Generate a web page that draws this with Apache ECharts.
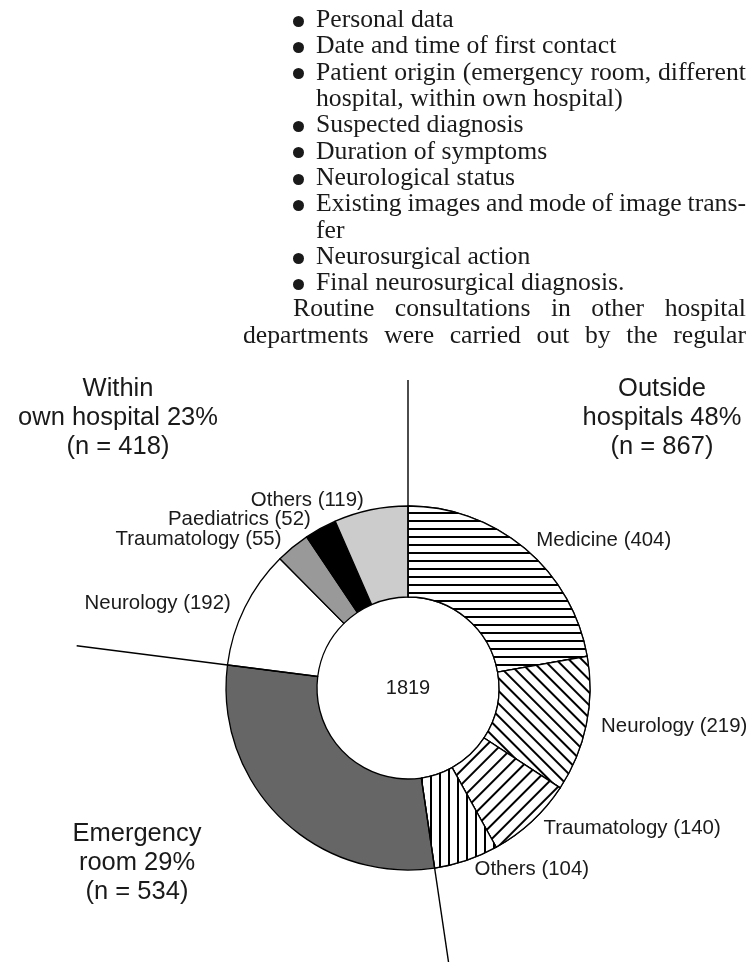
<!DOCTYPE html>
<html>
<head>
<meta charset="utf-8">
<script src="https://cdn.jsdelivr.net/npm/echarts@6/dist/echarts.min.js"></script>
<style>
  html, body { margin: 0; padding: 0; background: #fff; }
  #page { position: relative; width: 749px; height: 962px; overflow: hidden; }
  #chart { position: absolute; left: 0; top: 0; width: 749px; height: 962px; }
  #text {
    position: absolute; left: 0; top: 6.2px; width: 749px;
    font-family: "Liberation Serif", serif; font-size: 25.7px; line-height: 26.3px; color: #1a1a1a;
  }
  .li { position: relative; margin-left: 316px; width: 430px; white-space: nowrap; }
  .li .dot { position: absolute; left: -23.5px; top: 9.7px; width: 11px; height: 11px; border-radius: 50%; background: #1a1a1a; }
  .just { white-space: normal; word-spacing: -3px; text-align: justify; text-align-last: justify; }
</style>
</head>
<body>
<div id="page">
  <div id="chart"></div>
  <div id="text">
    <div class="li"><span class="dot"></span>Personal data</div>
    <div class="li"><span class="dot"></span>Date and time of first contact</div>
    <div class="li just"><span class="dot"></span>Patient origin (emergency room, different</div>
    <div class="li">hospital, within own hospital)</div>
    <div class="li"><span class="dot"></span>Suspected diagnosis</div>
    <div class="li"><span class="dot"></span>Duration of symptoms</div>
    <div class="li"><span class="dot"></span>Neurological status</div>
    <div class="li just"><span class="dot"></span>Existing images and mode of image trans-</div>
    <div class="li">fer</div>
    <div class="li"><span class="dot"></span>Neurosurgical action</div>
    <div class="li"><span class="dot"></span>Final neurosurgical diagnosis.</div>
    <div class="just" style="margin-left:293px;width:453px">Routine consultations in other hospital</div>
    <div class="just" style="margin-left:243px;width:503px">departments were carried out by the regular</div>
  </div>
</div>
<script>
  // consultations by origin, clockwise from 12 o'clock
  const outsideNames = ['Medicine', 'Neurology', 'Traumatology', 'Others']
  const outsideValues = [404, 219, 140, 104]
  const emergencyName = 'Emergency room'
  const emergencyValue = 534
  const ownNames = ['Neurology', 'Traumatology', 'Paediatrics', 'Others']
  const ownValues = [192, 55, 52, 119]

  const groupTitles = ['Outside\nhospitals', 'Emergency\nroom', 'Within\nown hospital']
  const groupPercents = [48, 29, 23]

  const sum = arr => arr.reduce((a, b) => a + b, 0)
  const outsideTotal = sum(outsideValues)
  const ownTotal = sum(ownValues)
  const total = outsideTotal + emergencyValue + ownTotal
  const groupN = [outsideTotal, emergencyValue, ownTotal]

  const cx = 408
  const cy = 688
  const ringInner = 91
  const ringOuter = 182

  const hatch = (rotation, gap) => ({
    symbol: 'rect',
    symbolSize: 1,
    dashArrayX: [1, 0],
    dashArrayY: [1.4, gap],
    rotation: rotation,
    color: '#000',
    backgroundColor: '#fff'
  })
  const outsideDecals = [
    hatch(0, 5.6),
    hatch(Math.PI / 4, 7),
    hatch(-Math.PI / 4, 7.5),
    hatch(Math.PI / 2, 6.8)
  ]
  const ownColors = ['#ffffff', '#999999', '#000000', '#cccccc']

  const pieData = []
  outsideNames.forEach((n, i) => {
    pieData.push({ name: n, value: outsideValues[i], itemStyle: { color: '#fff', decal: outsideDecals[i] } })
  })
  pieData.push({ name: emergencyName, value: emergencyValue, itemStyle: { color: '#666666' }, label: { show: false } })
  ownNames.forEach((n, i) => {
    pieData.push({ name: n, value: ownValues[i], itemStyle: { color: ownColors[i] } })
  })

  // group separators: angle in data units, outer reach in px
  const sepAngles = [0, outsideTotal, outsideTotal + emergencyValue]
  const sepReach = [308, 280, 334]

  const sepSeries = sepAngles.map((a, i) => ({
    type: 'line',
    coordinateSystem: 'polar',
    symbol: 'none',
    silent: true,
    clip: false,
    z: 5,
    lineStyle: { color: '#000', width: 1.4 },
    data: [[ringInner, a], [sepReach[i], a]]
  }))

  const sansFont = 'Liberation Sans, Arial, sans-serif'
  const groupText = (i, x, y) => ({
    type: 'text',
    x: x,
    y: y,
    style: {
      text: groupTitles[i] + ' ' + groupPercents[i] + '%\n(n = ' + groupN[i] + ')',
      fontSize: 25.5,
      fontFamily: sansFont,
      lineHeight: 29,
      align: 'center',
      verticalAlign: 'middle',
      fill: '#1a1a1a'
    }
  })

  const chart = echarts.init(document.getElementById('chart'))
  chart.setOption({
    animation: false,
    polar: { center: [cx, cy], radius: 340 },
    angleAxis: { type: 'value', min: 0, max: total, startAngle: 90, clockwise: true, show: false },
    radiusAxis: { type: 'value', min: 0, max: 340, show: false },
    graphic: [
      groupText(0, 662, 418),
      groupText(1, 137, 863),
      groupText(2, 118, 418),
      {
        type: 'text', x: cx, y: cy,
        style: { text: String(total), fontSize: 20, fontFamily: sansFont, align: 'center', verticalAlign: 'middle', fill: '#1a1a1a' }
      }
    ],
    series: [
      {
        type: 'pie',
        center: [cx, cy],
        radius: [ringInner, ringOuter],
        startAngle: 90,
        clockwise: true,
        avoidLabelOverlap: false,
        silent: true,
        itemStyle: { borderColor: '#000', borderWidth: 1.3 },
        label: {
          position: 'outside',
          formatter: '{b} ({c})',
          fontSize: 20.4,
          lineHeight: 16,
          fontFamily: sansFont,
          color: '#1a1a1a'
        },
        labelLine: { show: false, length: 10, length2: 0 },
        labelLayout: { hideOverlap: false },
        data: pieData
      }
    ].concat(sepSeries)
  })
</script>
</body>
</html>
